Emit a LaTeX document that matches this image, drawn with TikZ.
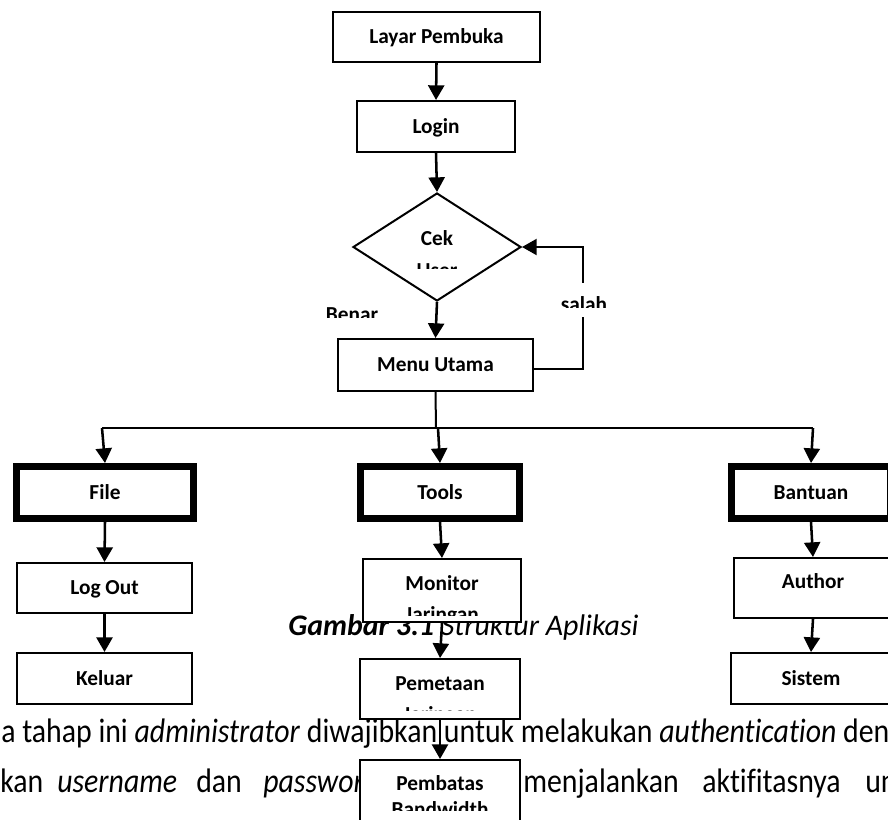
\documentclass[tikz,border=0pt]{standalone}
\usepackage{fontspec}
\setmainfont{Carlito}[Ligatures=NoCommon]
\usetikzlibrary{arrows.meta,shapes.geometric}
\newcommand\pxu{0.75pt}
% page text is set slightly condensed
\newcommand\narrowtext[1]{\scalebox{0.877}[1]{#1}}

\begin{document}
\begin{tikzpicture}[x=0.75pt,y=-0.75pt,
  box/.style={draw, fill=white, line width=1.5pt, inner sep=0pt,
    text height=10.3pt, text depth=0pt,
    font=\fontsize{16}{19}\selectfont\bfseries},
  menubox/.style={box, line width=5.25pt},
  lbl/.style={inner sep=0pt, anchor=base, font=\fontsize{16}{19}\selectfont\bfseries},
  body/.style={inner sep=0pt, anchor=base west, font=\fontsize{25.5}{30}\selectfont},
  arr/.style={-{Triangle[width=12pt,length=11pt]}, line width=1.9pt},
  link/.style={line width=1.5pt},
]
\useasboundingbox (0,0) rectangle (888,819);
\fill[white] (0,0) rectangle (888,819);
\clip (0,0) rectangle (888,819);

% running text of the page behind the chart
\node[body] (line1) at (1,742)
  {\narrowtext{a tahap ini \textit{administrator} diwajibkan untuk melakukan \textit{authentication} den}};
\node[body] (w1) at (0,792) {\narrowtext{kan}};
\node[body] (w2) at (57,792) {\narrowtext{\textit{username}}};
\node[body] (w3) at (196,792) {\narrowtext{dan}};
\node[body] (w4) at (263,792) {\narrowtext{\textit{passwor}}};
\node[body] (w5) at (523,792) {\narrowtext{menjalankan}};
\node[body] (w6) at (702,792) {\narrowtext{aktifitasnya}};
\node[body] (w7) at (865,792) {\narrowtext{un}};

% figure caption
\node[inner sep=0pt, anchor=base west, font=\fontsize{22.4}{26}\selectfont] (caption) at (288,635)
  {\textbf{\textit{Gambar 3.1}} \textit{Struktur Aplikasi}};

% login part
\node[box, minimum width=207*\pxu, minimum height=50*\pxu] (layar) at (436.5,37) {Layar Pembuka};
\node[box, minimum width=158*\pxu, minimum height=51*\pxu] (login) at (436,126.5) {Login};
\node[diamond, draw, fill=white, line width=1.5pt, inner sep=0pt,
      minimum width=168*\pxu, minimum height=108*\pxu] (cek) at (437,247) {};
\node[lbl] (cek-t1) at (437,245) {Cek};
\begin{scope}
  \clip (395,250) rectangle (480,268);
  \node[lbl] (cek-t2) at (437,277) {User};
\end{scope}
\node[box, minimum width=195*\pxu, minimum height=52*\pxu] (menu) at (435.5,365) {Menu Utama};

\draw[arr] (layar.south) -- (login.north);
\draw[arr] (login.south) -- (cek.north);
\draw[arr] (cek.south) -- (menu.north);

% wrong user goes back to the check
\coordinate (fb) at (583,369);
\draw[arr, line width=1.5pt] (menu.east |- fb) -- (fb) |- (cek.east);
\fill[white] (555,283) rectangle (615,317);
\begin{scope}
  \clip (540,280) rectangle (630,307);
  \node[lbl] (salah) at (584,311) {salah};
\end{scope}
\begin{scope}
  \clip (300,290) rectangle (420,317);
  \node[lbl] (benar) at (352,321) {Benar};
\end{scope}

% main menu branches
\coordinate (busL) at (102,428);
\coordinate (busC) at (436,428);
\coordinate (busT) at (438,428);
\coordinate (busR) at (813,428);
\draw[link] (menu.south) -- (busC);
\draw[link] (busL) -- (busR);

\node[menubox, minimum width=177*\pxu, minimum height=52*\pxu] (file) at (105,492.5) {File};
\node[menubox, minimum width=159*\pxu, minimum height=52*\pxu] (tools) at (440,492.5) {Tools};
\node[menubox, minimum width=159*\pxu, minimum height=52*\pxu] (bantuan) at (811,492.5) {Bantuan};

\draw[arr] (busL) -- (file.north);
\draw[arr] (busT) -- (tools.north);
\draw[arr] (busR) -- (bantuan.north);

% File column
\node[box, minimum width=175*\pxu, minimum height=50*\pxu] (logout) at (104.5,588) {Log Out};
\node[box, minimum width=175*\pxu, minimum height=51*\pxu] (keluar) at (104.5,678.5) {Keluar};
\draw[arr] (file.south) -- (logout.north);
\draw[arr] (logout.south) -- (keluar.north);

% Tools column
\node[box, minimum width=158*\pxu, minimum height=63*\pxu] (monitor) at (442,590.5) {};
\node[lbl] (monitor-t1) at (442,590) {Monitor};
\begin{scope}
  \clip (365,598) rectangle (519,615);
  \node[lbl] (monitor-t2) at (442,621) {Jaringan};
\end{scope}
\node[box, minimum width=160*\pxu, minimum height=60*\pxu] (pemetaan) at (440,689) {};
\node[lbl] (pemetaan-t1) at (440,690) {Pemetaan};
\begin{scope}
  \clip (362,698) rectangle (518,710);
  \node[lbl] (pemetaan-t2) at (440,721) {Jaringan};
\end{scope}
\node[box, minimum width=160*\pxu, minimum height=61*\pxu] (pembatas) at (440,790.5) {};
\node[lbl] (pembatas-t1) at (440,790) {Pembatas};
\begin{scope}
  \clip (362,798) rectangle (518,810);
  \node[lbl] (pembatas-t2) at (440,816) {Bandwidth};
\end{scope}
\draw[arr] (tools.south) -- (monitor.north);
\draw[arr] (monitor.south) -- (pemetaan.north);
\draw[arr] (pemetaan.south) -- (pembatas.north);

% Bantuan column
\node[box, minimum width=158*\pxu, minimum height=60*\pxu] (author) at (813,588) {};
\node[lbl] (author-t) at (813,588) {Author};
\node[box, minimum width=160*\pxu, minimum height=51*\pxu] (sistem) at (811,678.5) {Sistem};
\draw[arr] (bantuan.south) -- (author.north);
\draw[arr] (author.south) -- (sistem.north);
\end{tikzpicture}
\end{document}
